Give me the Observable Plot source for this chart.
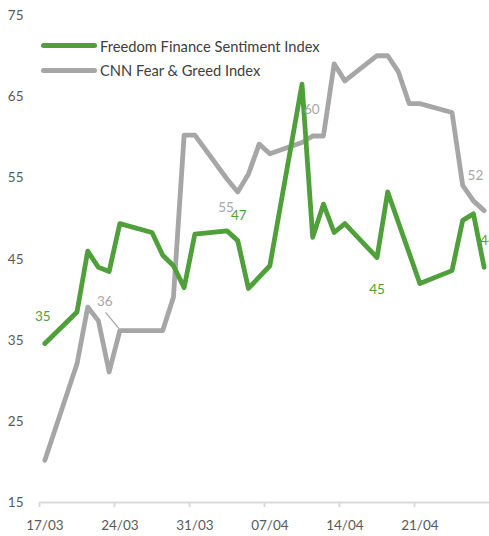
<!DOCTYPE html>
<html><head><meta charset="utf-8">
<script src="https://cdn.jsdelivr.net/npm/d3@7"></script>
<script src="https://cdn.jsdelivr.net/npm/@observablehq/plot@0.6"></script>
<style>
html,body{margin:0;padding:0;background:#fff;overflow:hidden;}
#wrap{position:relative;width:489px;height:536px;font-family:Lato,"Open Sans",sans-serif;}
.legend{position:absolute;left:41px;top:0;}
.item{position:absolute;left:0;display:flex;align-items:center;white-space:nowrap;font-size:14.7px;color:#404040;}
.swatch{width:56px;height:5px;border-radius:3px;margin-right:3px;}
</style></head><body><div id="wrap"></div>
<script>
// ---- data ----
const greenDates = ["2025-03-17","2025-03-20","2025-03-21","2025-03-22","2025-03-23","2025-03-24","2025-03-27","2025-03-28","2025-03-29","2025-03-30","2025-03-31","2025-04-03","2025-04-04","2025-04-05","2025-04-07","2025-04-10","2025-04-11","2025-04-12","2025-04-13","2025-04-14","2025-04-17","2025-04-18","2025-04-21","2025-04-24","2025-04-25","2025-04-26","2025-04-27"];
const greenValues = [34.6,38.5,46.0,44.0,43.5,49.4,48.3,45.5,44.2,41.5,48.1,48.5,47.3,41.4,44.2,66.6,47.7,51.8,48.3,49.4,45.2,53.3,42.0,43.6,49.8,50.6,44.0];
const grayDates = ["2025-03-17","2025-03-20","2025-03-21","2025-03-22","2025-03-23","2025-03-24","2025-03-27","2025-03-28","2025-03-29","2025-03-30","2025-03-31","2025-04-03","2025-04-04","2025-04-05","2025-04-06","2025-04-07","2025-04-10","2025-04-11","2025-04-12","2025-04-13","2025-04-14","2025-04-17","2025-04-18","2025-04-19","2025-04-20","2025-04-21","2025-04-24","2025-04-25","2025-04-26","2025-04-27"];
const grayValues = [20.2,32.1,39.1,37.4,31.1,36.2,36.2,36.2,40.3,60.3,60.3,54.9,53.3,55.5,59.2,58.0,59.4,60.2,60.2,69.1,67.0,70.1,70.1,68.1,64.2,64.2,63.1,54.1,52.2,51.0];
const seriesNames = ["Freedom Finance Sentiment Index","CNN Fear & Greed Index"];
const xTickLabels = ["17/03","24/03","31/03","07/04","14/04","21/04"];
const yTicks = [15,25,35,45,55,65,75];
const greenLabelDates = ["2025-03-17","2025-04-04","2025-04-17","2025-04-27"];
const grayLabelDates = ["2025-03-24","2025-04-03","2025-04-11","2025-04-26"];
const year = "2025";
const xDomain = ["2025-03-17","2025-04-28"];

// ---- styles ----
const GREEN = "#4FA03A", GRAY = "#A6A6A6", AXIS = "#D9D9D9", TEXT = "#595959";
const greenLabelStyle = [{dx:-2,dy:-27},{dx:1,dy:-25},{dx:0,dy:32},{dx:4,dy:-27}];
const grayLabelStyle = [{dx:-15,dy:-29},{dx:-1,dy:29},{dx:-1,dy:-26},{dx:2,dy:-25}];

const parse = d3.utcParse("%Y-%m-%d");
const noon = d => d3.utcHour.offset(d, 12);
const green = greenDates.map((d,i)=>({date: parse(d), value: greenValues[i]}));
const gray = grayDates.map((d,i)=>({date: parse(d), value: grayValues[i]}));
const weekStarts = xTickLabels.map(s => d3.utcParse("%d/%m/%Y")(s + "/" + year));
const weekNoons = weekStarts.map(noon);
const fmt = d3.utcFormat("%d/%m");

function labelMarks(series, dates, styles, color) {
  return dates.map((ds, i) => {
    const pt = series.find(p => +p.date === +parse(ds));
    return Plot.text([pt], {x: d => noon(d.date), y: "value", text: d => String(Math.round(d.value)),
      fill: color, fontSize: 13.5, dx: styles[i].dx, dy: styles[i].dy});
  });
}

const chart = Plot.plot({
  width: 489, height: 536,
  marginTop: 15.5, marginBottom: 34, marginLeft: 39, marginRight: 0,
  style: {fontFamily: "Lato, 'Open Sans', sans-serif", fontSize: "13.5px", color: TEXT, background: "transparent", overflow: "visible"},
  x: {type: "utc", domain: xDomain.map(parse), label: null},
  y: {domain: [15, 75], label: null},
  marks: [
    Plot.axisY(yTicks, {tickSize: 0, tickPadding: 16, label: null}),
    Plot.ruleY([15], {stroke: AXIS, strokeWidth: 2}),
    Plot.axisX(weekStarts, {tickSize: 5, stroke: AXIS, strokeWidth: 2, tickFormat: () => "", label: null}),
    Plot.axisX(weekNoons, {tickSize: 0, tickPadding: 18, tickFormat: d => xTickLabels[weekNoons.findIndex(w => +w === +d)] ?? fmt(d), label: null}),
    Plot.line(gray, {x: d => noon(d.date), y: "value", stroke: GRAY, strokeWidth: 4.8, strokeLinecap: "round", strokeLinejoin: "round"}),
    Plot.line(green, {x: d => noon(d.date), y: "value", stroke: GREEN, strokeWidth: 4.8, strokeLinecap: "round", strokeLinejoin: "round"}),
    Plot.link(gray.filter(p => +p.date === +parse(grayLabelDates[0])), {
      x1: d => d3.utcHour.offset(noon(d.date), -32), y1: d => d.value + 2.25,
      x2: d => d3.utcHour.offset(noon(d.date), -2), y2: d => d.value + 0.25,
      stroke: GRAY, strokeWidth: 1.3}),
    ...labelMarks(gray, grayLabelDates, grayLabelStyle, GRAY),
    ...labelMarks(green, greenLabelDates, greenLabelStyle, GREEN)
  ]
});

const wrap = document.getElementById("wrap");
wrap.appendChild(chart);
const legend = document.createElement("div");
legend.className = "legend";
[[seriesNames[0], GREEN, 45.7], [seriesNames[1], GRAY, 70]].forEach(([name, color, cy]) => {
  const it = document.createElement("div");
  it.className = "item";
  it.style.top = (cy - 10) + "px";
  it.style.height = "20px";
  const sw = document.createElement("div");
  sw.className = "swatch";
  sw.style.background = color;
  const tx = document.createElement("span");
  tx.textContent = name;
  it.appendChild(sw); it.appendChild(tx);
  legend.appendChild(it);
});
wrap.appendChild(legend);
chart.style.position = "absolute";
chart.style.left = "0"; chart.style.top = "0";
</script>
</body></html>
